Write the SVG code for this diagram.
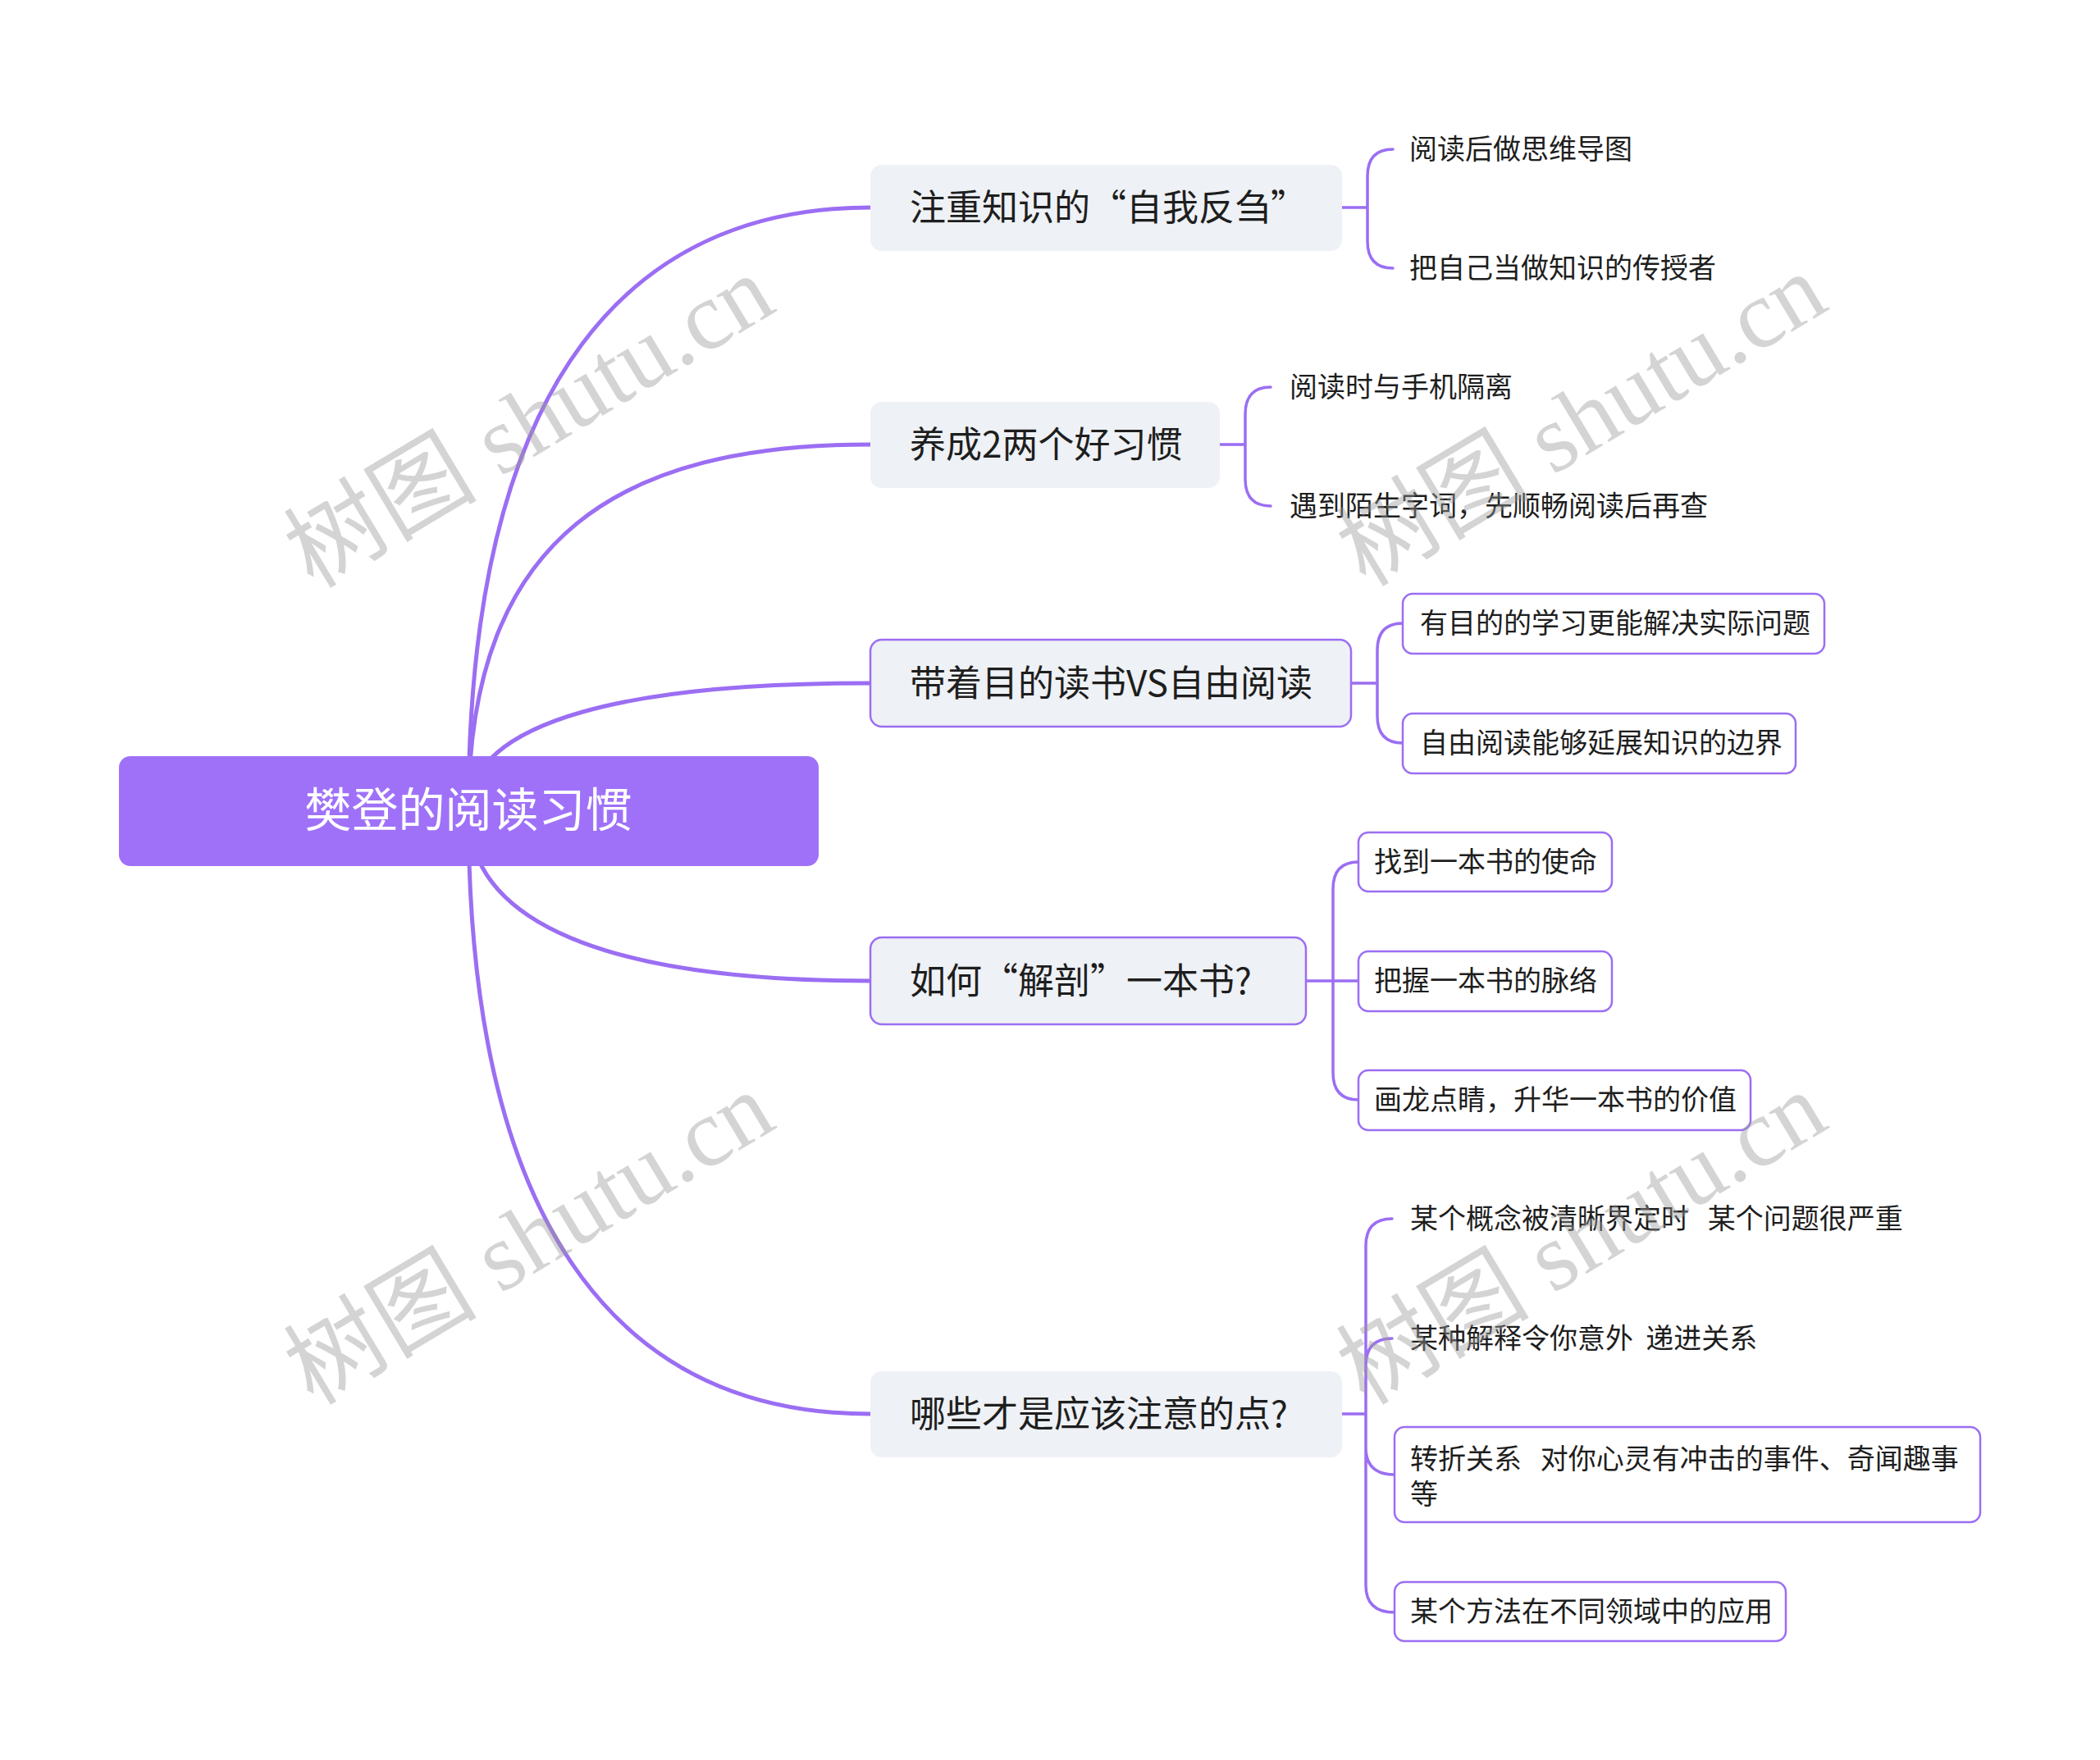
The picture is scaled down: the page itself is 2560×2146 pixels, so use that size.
<svg xmlns="http://www.w3.org/2000/svg" width="2560" height="2146" viewBox="0 0 2560 2146">
<style>
.l1{fill:#eef1f5}
.l1b{fill:#eef1f5;stroke:#9b6ef3;stroke-width:2.5}
.leafb{fill:#ffffff;stroke:#9b6ef3;stroke-width:2.5}
.t1{font-family:"Noto Sans CJK SC","Noto Sans",sans-serif;font-size:44px;fill:#1e1e1e}
.t2{font-family:"Noto Sans CJK SC","Noto Sans",sans-serif;font-size:34px;fill:#1e1e1e;white-space:pre}
.tr{font-family:"Noto Sans CJK SC","Noto Sans",sans-serif;font-size:57px;fill:#ffffff}
.main{fill:none;stroke:#9b6ef3;stroke-width:5;stroke-linecap:round}
.br{fill:none;stroke:#9b6ef3;stroke-width:3.5;stroke-linecap:round}
.wm{font-family:"Liberation Serif","Noto Sans CJK SC",serif;font-size:118px;fill:#999999;fill-opacity:0.42}
</style>
<rect width="2560" height="2146" fill="#ffffff"/>
<g id="connectors">
<path class="main" d="M571 989 C571 452 777 253 1061 253"/>
<path class="main" d="M571 989 C571 650 760 542 1061 542"/>
<path class="main" d="M571 989 C571 875 777 833 1061 833"/>
<path class="main" d="M571 989 C571 1140 777 1196 1061 1196"/>
<path class="main" d="M571 989 C571 1526 777 1724 1061 1724"/>
<path class="br" d="M1636 253 H1667 M1667 253 V215 Q1667 182 1698 182 M1667 253 V294 Q1667 327 1698 327"/>
<path class="br" d="M1487 542 H1518 M1518 542 V505 Q1518 472 1549 472 M1518 542 V584 Q1518 617 1549 617"/>
<path class="br" d="M1647 833 H1679 M1679 833 V793 Q1679 760 1710 760 M1679 833 V873 Q1679 906 1710 906"/>
<path class="br" d="M1592 1196 H1656 M1625 1196 V1084 Q1625 1051 1656 1051 M1625 1196 V1308 Q1625 1341 1656 1341"/>
<path class="br" d="M1636 1724 H1665 M1665 1724 V1519 Q1665 1486 1697 1486 M1665 1724 V1665 Q1665 1632 1697 1632 M1665 1724 V1765 Q1665 1798 1700 1798 M1665 1724 V1933 Q1665 1966 1700 1966"/>
</g>
<g id="root">
<rect x="145" y="922" width="853" height="134" rx="14" fill="#9f71f9"/>
<text class="tr" x="571" y="1008" text-anchor="middle">樊登的阅读习惯</text>
</g>
<g id="n1">
<rect class="l1" x="1061" y="201" width="575" height="105" rx="14"/>
<text class="t1" x="1109" y="269">注重知识的“自我反刍”</text>
</g>
<g id="n1a"><text class="t2" x="1718" y="194">阅读后做思维导图</text></g>
<g id="n1b"><text class="t2" x="1718" y="339">把自己当做知识的传授者</text></g>
<g id="n2">
<rect class="l1" x="1061" y="490" width="426" height="105" rx="14"/>
<text class="t1" x="1109" y="558">养成2两个好习惯</text>
</g>
<g id="n2a"><text class="t2" x="1572" y="484">阅读时与手机隔离</text></g>
<g id="n2b"><text class="t2" x="1572" y="629">遇到陌生字词，先顺畅阅读后再查</text></g>
<g id="n3">
<rect class="l1b" x="1061" y="780" width="586" height="106" rx="14"/>
<text class="t1" x="1109" y="849">带着目的读书VS自由阅读</text>
</g>
<g id="n3a">
<rect class="leafb" x="1710" y="724" width="514" height="73" rx="12"/>
<text class="t2" x="1731" y="772">有目的的学习更能解决实际问题</text>
</g>
<g id="n3b">
<rect class="leafb" x="1710" y="870" width="479" height="73" rx="12"/>
<text class="t2" x="1731" y="918">自由阅读能够延展知识的边界</text>
</g>
<g id="n4">
<rect class="l1b" x="1061" y="1143" width="531" height="106" rx="14"/>
<text class="t1" x="1109" y="1212">如何“解剖”一本书?</text>
</g>
<g id="n4a">
<rect class="leafb" x="1656" y="1015" width="309" height="72" rx="12"/>
<text class="t2" x="1675" y="1063">找到一本书的使命</text>
</g>
<g id="n4b">
<rect class="leafb" x="1656" y="1160" width="309" height="73" rx="12"/>
<text class="t2" x="1675" y="1208">把握一本书的脉络</text>
</g>
<g id="n4c">
<rect class="leafb" x="1656" y="1305" width="478" height="73" rx="12"/>
<text class="t2" x="1675" y="1353">画龙点睛，升华一本书的价值</text>
</g>
<g id="n5">
<rect class="l1" x="1061" y="1672" width="575" height="105" rx="14"/>
<text class="t1" x="1109" y="1740">哪些才是应该注意的点?</text>
</g>
<g id="n5a"><text class="t2" x="1719" y="1498">某个概念被清晰界定时   某个问题很严重</text></g>
<g id="n5b"><text class="t2" x="1719" y="1644">某种解释令你意外  递进关系</text></g>
<g id="n5c">
<rect class="leafb" x="1700" y="1740" width="714" height="116" rx="12"/>
<text class="t2" x="1719" y="1791"><tspan x="1719" y="1791">转折关系   对你心灵有冲击的事件、奇闻趣事</tspan><tspan x="1719" y="1834">等</tspan></text>
</g>
<g id="n5d">
<rect class="leafb" x="1700" y="1929" width="477" height="72" rx="12"/>
<text class="t2" x="1719" y="1977">某个方法在不同领域中的应用</text>
</g>
<g id="watermarks">
<text class="wm" x="645" y="554" text-anchor="middle" transform="rotate(-31 645 514)">树图 shutu.cn</text>
<text class="wm" x="1928" y="552" text-anchor="middle" transform="rotate(-31 1928 512)">树图 shutu.cn</text>
<text class="wm" x="645" y="1550" text-anchor="middle" transform="rotate(-31 645 1510)">树图 shutu.cn</text>
<text class="wm" x="1928" y="1550" text-anchor="middle" transform="rotate(-31 1928 1510)">树图 shutu.cn</text>
</g>
</svg>
